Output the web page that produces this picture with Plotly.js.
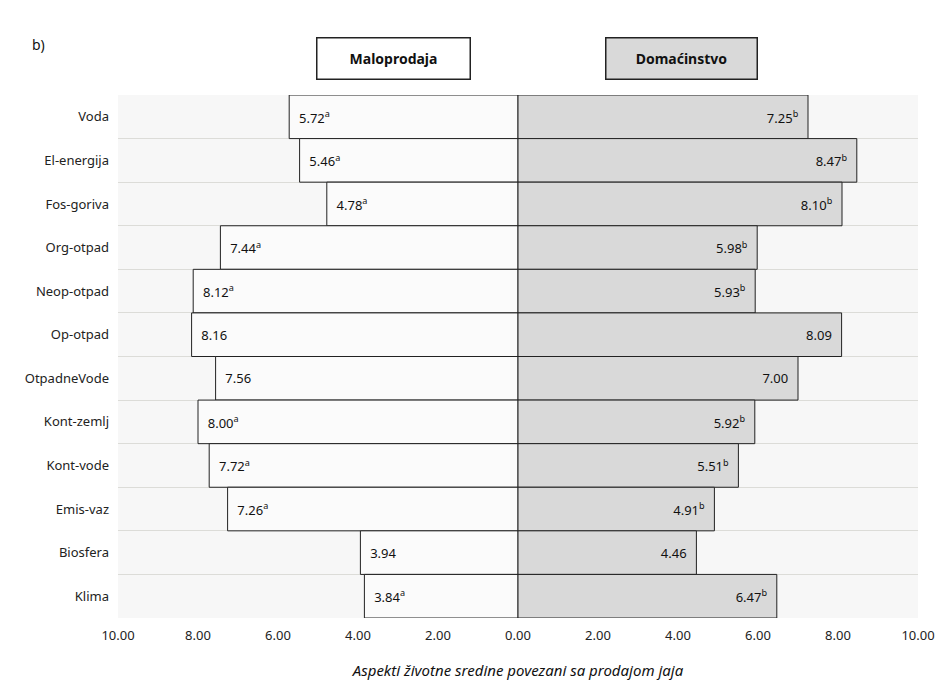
<!DOCTYPE html>
<html>
<head>
<meta charset="utf-8">
<script src="https://cdn.plot.ly/plotly-3.0.1.min.js"></script>
<style>html,body{margin:0;padding:0;background:#fff;}#chart{width:942px;height:700px;}</style>
</head>
<body>
<div id="chart"></div>
<script>
const categories = ["Voda","El-energija","Fos-goriva","Org-otpad","Neop-otpad","Op-otpad","OtpadneVode","Kont-zemlj","Kont-vode","Emis-vaz","Biosfera","Klima"];
const maloprodaja = [5.72,5.46,4.78,7.44,8.12,8.16,7.56,8.00,7.72,7.26,3.94,3.84];
const maloprodajaSup = ["a","a","a","a","a","","","a","a","a","","a"];
const domacinstvo = [7.25,8.47,8.10,5.98,5.93,8.09,7.00,5.92,5.51,4.91,4.46,6.47];
const domacinstvoSup = ["b","b","b","b","b","","","b","b","b","","b"];
const tickVals = [-10,-8,-6,-4,-2,0,2,4,6,8,10];
const tickText = ["10.00","8.00","6.00","4.00","2.00","0.00","2.00","4.00","6.00","8.00","10.00"];
const seriesNames = ["Maloprodaja","Domaćinstvo"];
const axisTitle = "Aspekti životne sredine povezani sa prodajom jaja";
const panelLabel = "b)";

const FONT = "Noto Sans, Open Sans, sans-serif";
const PAD = "\u00a0\u00a0";
const lblL = (v, s) => PAD + v.toFixed(2) + (s ? "<sup>" + s + "</sup>" : "");
const lblR = (v, s) => v.toFixed(2) + (s ? "<sup>" + s + "</sup>" : "") + PAD;

const traces = [
  {
    type: "bar", orientation: "h", name: seriesNames[0],
    y: categories, x: maloprodaja.map(v => -v),
    text: maloprodaja.map((v, i) => lblL(v, maloprodajaSup[i])),
    textposition: "inside", insidetextanchor: "end", textangle: 0,
    textfont: {family: FONT, size: 13, color: "#111"},
    marker: {color: "#fbfbfb", line: {color: "#222", width: 1}},
    hoverinfo: "none", cliponaxis: false
  },
  {
    type: "bar", orientation: "h", name: seriesNames[1],
    y: categories, x: domacinstvo,
    text: domacinstvo.map((v, i) => lblR(v, domacinstvoSup[i])),
    textposition: "inside", insidetextanchor: "end", textangle: 0,
    textfont: {family: FONT, size: 13, color: "#111"},
    marker: {color: "#d9d9d9", line: {color: "#222", width: 1}},
    hoverinfo: "none", cliponaxis: false
  }
];

const layout = {
  width: 942, height: 700,
  margin: {l: 118, r: 24, t: 95, b: 82},
  paper_bgcolor: "#ffffff", plot_bgcolor: "#f7f7f7",
  barmode: "overlay", bargap: 0,
  showlegend: false,
  font: {family: FONT, size: 13, color: "#222"},
  xaxis: {
    range: [-10, 10], tickvals: tickVals, ticktext: tickText,
    showgrid: false, zeroline: true, zerolinecolor: "#999", zerolinewidth: 1,
    showline: false, ticks: "", fixedrange: true, ticklabelstandoff: 8,
    tickfont: {family: FONT, size: 13, color: "#222"},
    title: {text: axisTitle, font: {family: FONT, size: 15, color: "#111", style: "italic"}, standoff: 22}
  },
  yaxis: {
    type: "category", categoryorder: "array", categoryarray: categories,
    autorange: "reversed", tickson: "boundaries", showgrid: true,
    gridcolor: "#dcdcd8", gridwidth: 1, ticks: "", ticklen: 0,
    tickfont: {family: FONT, size: 13, color: "#222"},
    ticklabelstandoff: 8, showline: false, zeroline: false
  },
  annotations: [
    {xref: "paper", yref: "paper", x: 0.344, y: 1.069, xanchor: "center", yanchor: "middle",
     text: "<b>" + seriesNames[0] + "</b>",
     showarrow: false, width: 150, height: 38, bgcolor: "#ffffff", bordercolor: "#222", borderwidth: 1.5,
     font: {family: FONT, size: 14, color: "#111"}},
    {xref: "paper", yref: "paper", x: 0.704, y: 1.069, xanchor: "center", yanchor: "middle",
     text: "<b>" + seriesNames[1] + "</b>",
     showarrow: false, width: 148, height: 38, bgcolor: "#d9d9d9", bordercolor: "#222", borderwidth: 1.5,
     font: {family: FONT, size: 14, color: "#111"}},
    {xref: "paper", yref: "paper", x: -0.1, y: 1.096, xanchor: "center", yanchor: "middle",
     text: panelLabel, showarrow: false,
     font: {family: FONT, size: 14, color: "#111"}}
  ]
};

Plotly.newPlot("chart", traces, layout, {displayModeBar: false, staticPlot: true});
</script>
</body>
</html>
